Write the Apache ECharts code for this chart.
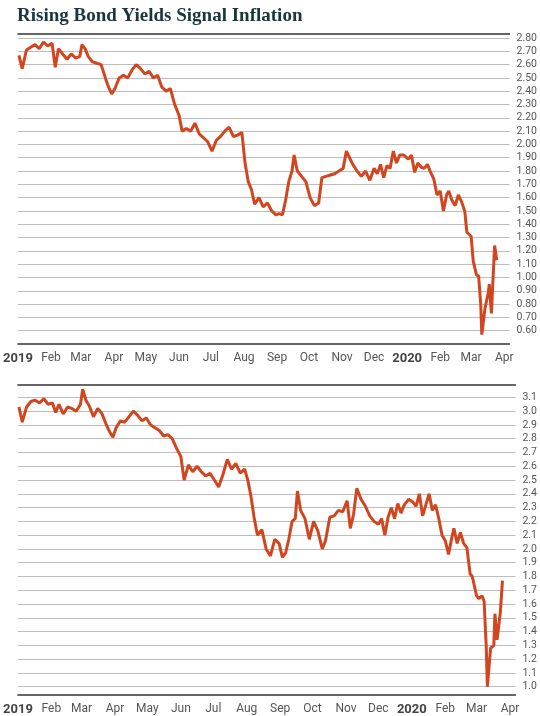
<!DOCTYPE html>
<html><head><meta charset="utf-8">
<script src="https://cdn.jsdelivr.net/npm/echarts@6/dist/echarts.min.js"></script>
<style>html,body{margin:0;padding:0;background:#fff}#c{width:540px;height:716px}</style>
</head><body><div id="c"></div>
<script>
const titleText = 'Rising Bond Yields Signal Inflation';
const dates = ['2019-01-02','2019-01-05','2019-01-09','2019-01-13','2019-01-17','2019-01-21','2019-01-25','2019-01-29','2019-02-02','2019-02-05','2019-02-08','2019-02-12','2019-02-16','2019-02-20','2019-02-24','2019-02-28','2019-03-02','2019-03-05','2019-03-08','2019-03-12','2019-03-16','2019-03-20','2019-03-24','2019-03-27','2019-03-30','2019-04-02','2019-04-06','2019-04-10','2019-04-14','2019-04-18','2019-04-22','2019-04-26','2019-04-30','2019-05-04','2019-05-08','2019-05-12','2019-05-16','2019-05-20','2019-05-24','2019-05-28','2019-06-01','2019-06-04','2019-06-08','2019-06-12','2019-06-16','2019-06-20','2019-06-24','2019-06-28','2019-07-02','2019-07-06','2019-07-10','2019-07-14','2019-07-18','2019-07-22','2019-07-26','2019-07-30','2019-08-02','2019-08-05','2019-08-08','2019-08-11','2019-08-15','2019-08-19','2019-08-23','2019-08-27','2019-08-31','2019-09-03','2019-09-06','2019-09-09','2019-09-12','2019-09-15','2019-09-17','2019-09-20','2019-09-24','2019-09-28','2019-10-02','2019-10-06','2019-10-10','2019-10-13','2019-10-17','2019-10-21','2019-10-25','2019-10-29','2019-11-02','2019-11-05','2019-11-08','2019-11-11','2019-11-15','2019-11-19','2019-11-23','2019-11-27','2019-12-01','2019-12-04','2019-12-07','2019-12-10','2019-12-13','2019-12-16','2019-12-19','2019-12-22','2019-12-25','2019-12-29','2020-01-02','2020-01-05','2020-01-08','2020-01-11','2020-01-14','2020-01-17','2020-01-20','2020-01-23','2020-01-26','2020-01-29','2020-02-01','2020-02-04','2020-02-07','2020-02-09','2020-02-12','2020-02-15','2020-02-18','2020-02-21','2020-02-24','2020-02-26','2020-03-01','2020-03-03','2020-03-06','2020-03-08','2020-03-10','2020-03-11','2020-03-14','2020-03-17','2020-03-18','2020-03-20','2020-03-23','2020-03-25'];
const tenYear = [2.67,2.57,2.71,2.73,2.75,2.72,2.77,2.74,2.76,2.58,2.72,2.68,2.64,2.68,2.65,2.66,2.75,2.72,2.66,2.62,2.61,2.60,2.50,2.43,2.38,2.42,2.50,2.52,2.50,2.56,2.60,2.57,2.53,2.55,2.50,2.52,2.43,2.40,2.42,2.30,2.22,2.10,2.12,2.10,2.16,2.08,2.05,2.02,1.95,2.03,2.06,2.10,2.13,2.06,2.07,2.09,1.86,1.72,1.66,1.55,1.60,1.53,1.56,1.50,1.47,1.48,1.47,1.58,1.72,1.80,1.92,1.80,1.76,1.72,1.60,1.54,1.56,1.75,1.76,1.77,1.78,1.80,1.82,1.95,1.90,1.85,1.80,1.76,1.80,1.73,1.82,1.78,1.85,1.75,1.84,1.82,1.95,1.86,1.92,1.92,1.89,1.92,1.79,1.86,1.83,1.82,1.85,1.79,1.74,1.62,1.65,1.50,1.62,1.65,1.58,1.54,1.62,1.57,1.50,1.34,1.31,1.12,1.02,1.01,0.80,0.57,0.77,0.88,0.95,0.73,1.24,1.13];
const thirtyYear = [3.03,2.92,3.03,3.07,3.08,3.06,3.09,3.05,3.06,2.99,3.05,2.98,3.03,3.02,3.00,3.05,3.16,3.08,3.04,2.96,3.02,2.98,2.90,2.85,2.81,2.88,2.93,2.92,2.96,3.00,2.97,2.93,2.95,2.90,2.88,2.86,2.82,2.83,2.80,2.73,2.67,2.50,2.61,2.56,2.60,2.56,2.53,2.55,2.50,2.45,2.54,2.65,2.58,2.62,2.55,2.58,2.50,2.38,2.22,2.10,2.14,2.00,1.95,2.07,2.04,1.94,1.97,2.07,2.20,2.22,2.42,2.28,2.22,2.07,2.20,2.13,2.00,2.06,2.23,2.24,2.28,2.27,2.35,2.15,2.25,2.44,2.36,2.31,2.24,2.20,2.18,2.22,2.10,2.23,2.30,2.22,2.33,2.26,2.32,2.36,2.34,2.31,2.40,2.24,2.32,2.40,2.28,2.32,2.22,2.10,2.06,1.96,2.08,2.15,2.04,2.12,2.04,2.01,1.82,1.80,1.66,1.64,1.66,1.62,1.28,1.00,1.28,1.30,1.53,1.34,1.54,1.77];
const monthNames = ['Jan','Feb','Mar','Apr','May','Jun','Jul','Aug','Sep','Oct','Nov','Dec'];

const chart = echarts.init(document.getElementById('c'));
const FONT = "'Liberation Sans Narrow','Roboto',sans-serif";
const X_MIN = '2019-01-01', X_MAX = '2020-04-06';
const MONTH = 86400000*30;
function xBottom(gi){
  return {type:'time', gridIndex:gi, min:X_MIN, max:X_MAX, position:'bottom',
    minInterval:MONTH*0.9, maxInterval:MONTH*1.1,
    offset: gi===1 ? -5.5 : 0,
    axisLine:{show:true,lineStyle:{color:'#333',width:1.5}}, axisTick:{show:false}, splitLine:{show:false},
    axisLabel:{margin:8, color:'#555', fontSize:12, fontFamily:FONT, hideOverlap:false,
      formatter:function(v){const d=new Date(v); if(d.getDate()!==1) return ''; const m=d.getMonth(); return m===0?'{b|'+d.getFullYear()+'}':monthNames[m];},
      rich:{b:{fontWeight:'bold',fontSize:13,color:'#444',fontFamily:FONT}}}};
}
function xTop(gi){
  return {type:'time', gridIndex:gi, min:X_MIN, max:X_MAX, position:'top',
    axisLine:{show:true,lineStyle:{color:'#333',width:1.5}}, axisTick:{show:false}, axisLabel:{show:false}, splitLine:{show:false}};
}
function yAx(gi,min,max,dec,lo,hi){
  return {type:'value', gridIndex:gi, position:'right', min:min, max:max, interval:0.1,
    axisLine:{show:false}, axisTick:{show:false},
    splitLine:{show:true, showMinLine:false, showMaxLine:false, lineStyle:{color:'#bdbdbd',width:1}},
    axisLabel:{margin:7, color:'#555', fontSize:10.5, fontFamily:FONT,
      formatter:function(v){return (v<lo||v>hi)?'':v.toFixed(dec);}}};
}
const lineStyle = {color:'#d2451e', width:3};
chart.setOption({
  animation:false,
  title:{text:titleText, left:12, top:2, textStyle:{fontFamily:"'Liberation Serif','DejaVu Serif',serif", fontWeight:'bold', fontSize:19, color:'#17363d'}},
  grid:[{left:14,right:24,top:34,height:310},{left:14,right:24,top:385,height:316.8}],
  xAxis:[xBottom(0),xTop(0),xBottom(1),xTop(1)],
  yAxis:[yAx(0,0.5,2.83,2,0.55,2.805), yAx(1,0.9,3.19,1,0.95,3.15)],
  series:[
    {type:'line', xAxisIndex:0, yAxisIndex:0, data:dates.map((d,i)=>[d,tenYear[i]]), showSymbol:false, lineStyle:lineStyle},
    {type:'line', xAxisIndex:2, yAxisIndex:1, data:dates.map((d,i)=>[d,thirtyYear[i]]), showSymbol:false, lineStyle:lineStyle}
  ]
});
</script></body></html>
